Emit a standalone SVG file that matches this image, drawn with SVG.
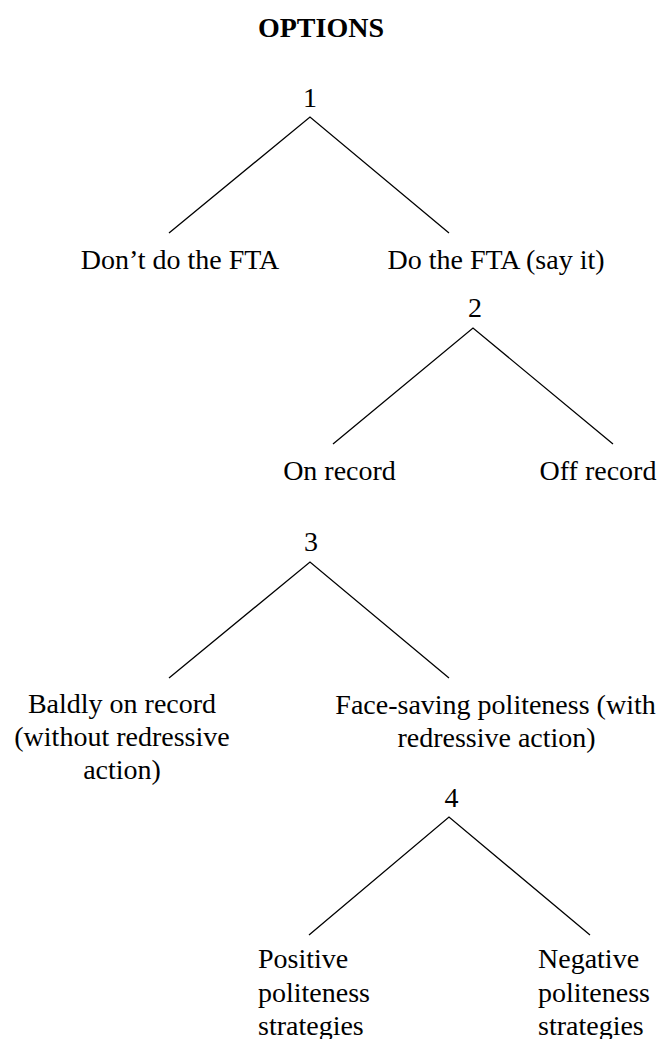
<svg xmlns="http://www.w3.org/2000/svg" width="663" height="1039" viewBox="0 0 663 1039">
<style>
  text { font-family: "Liberation Serif", "Times New Roman", serif; font-size: 28px; fill: #000; }
  .title { font-weight: bold; text-anchor: middle; }
  .c { text-anchor: middle; }
  .l { text-anchor: start; }
  .edge { stroke: #000; stroke-width: 1.3; fill: none; stroke-linecap: butt; stroke-linejoin: miter; }
</style>
<rect width="663" height="1039" fill="#fff"/>
<text class="title" x="321" y="37">OPTIONS</text>
<g id="connectors">
  <polyline class="edge" points="169,233 310,117 449,233"/>
  <polyline class="edge" points="333,444 473,328 613,444"/>
  <polyline class="edge" points="169,678 310,562 449,678"/>
  <polyline class="edge" points="309,935 449,817 590,935"/>
</g>
<g id="n1"><text class="c" x="310" y="107">1</text></g>
<g id="dont"><text class="c" x="180" y="269">Don’t do the FTA</text></g>
<g id="do"><text class="c" x="496" y="269">Do the FTA (say it)</text></g>
<g id="n2"><text class="c" x="475" y="317">2</text></g>
<g id="onrecord"><text class="c" x="339.5" y="480">On record</text></g>
<g id="offrecord"><text class="c" x="598" y="480">Off record</text></g>
<g id="n3"><text class="c" x="311" y="551">3</text></g>
<g id="baldly">
  <text class="c" x="122" y="713">Baldly on record</text>
  <text class="c" x="122" y="746">(without redressive</text>
  <text class="c" x="122" y="779">action)</text>
</g>
<g id="facesaving">
  <text class="c" x="495.5" y="714">Face-saving politeness (with</text>
  <text class="c" x="496.5" y="747">redressive action)</text>
</g>
<g id="n4"><text class="c" x="451.5" y="807">4</text></g>
<g id="positive">
  <text class="l" x="258" y="968">Positive</text>
  <text class="l" x="258" y="1001.5">politeness</text>
  <text class="l" x="258" y="1035">strategies</text>
</g>
<g id="negative">
  <text class="l" x="538" y="968">Negative</text>
  <text class="l" x="538" y="1001.5">politeness</text>
  <text class="l" x="538" y="1035">strategies</text>
</g>
</svg>
